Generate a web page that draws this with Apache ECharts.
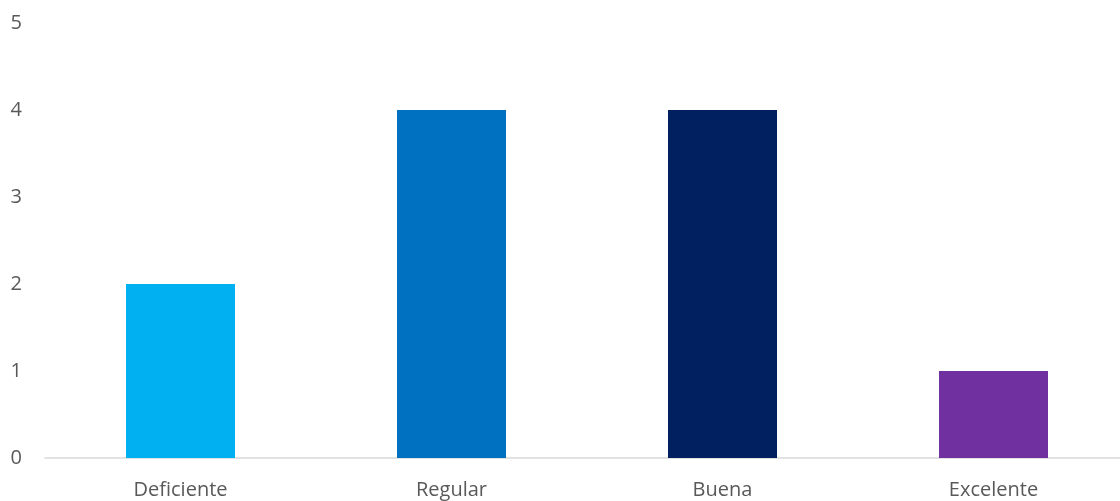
<!DOCTYPE html>
<html>
<head>
<meta charset="utf-8">
<script src="https://cdn.jsdelivr.net/npm/echarts@6/dist/echarts.min.js"></script>
<style>html,body{margin:0;padding:0;background:#fff;overflow:hidden;width:1120px;height:501px}#c{width:1129px;height:501px}</style>
</head>
<body>
<div id="c"></div>
<script>
const categories = ['Deficiente', 'Regular', 'Buena', 'Excelente'];
const values = [2, 4, 4, 1];
const colors = ['#00B0F0', '#0070C0', '#002060', '#7030A0'];

const chart = echarts.init(document.getElementById('c'));
chart.setOption({
  animation: false,
  grid: { left: 45, top: 23, right: 0, bottom: 43, containLabel: false },
  xAxis: {
    type: 'category',
    data: categories,
    axisLine: { lineStyle: { color: '#D9D9D9', width: 1.5 } },
    axisTick: { show: false },
    axisLabel: { color: '#595959', fontSize: 20, fontFamily: 'Open Sans', margin: 22 }
  },
  yAxis: {
    type: 'value',
    min: 0, max: 5, interval: 1,
    splitLine: { show: false },
    axisLine: { show: false },
    axisTick: { show: false },
    axisLabel: { color: '#595959', fontSize: 20, fontFamily: 'Open Sans', margin: 23 }
  },
  series: [{
    type: 'bar',
    barWidth: 109,
    data: values.map((v, i) => ({ value: v, itemStyle: { color: colors[i] } }))
  }]
});
</script>
</body>
</html>
